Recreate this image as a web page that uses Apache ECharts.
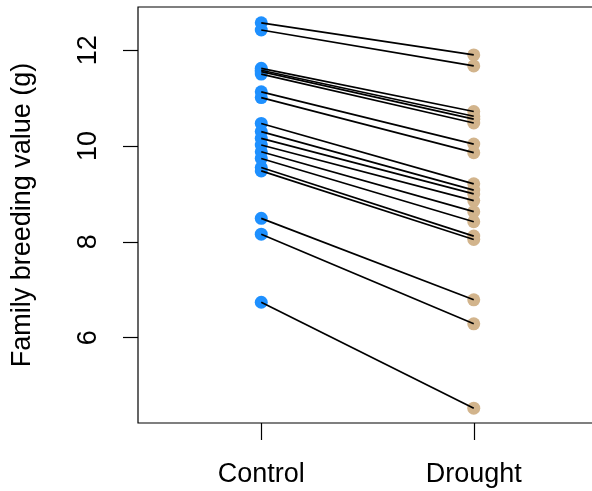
<!DOCTYPE html>
<html>
<head>
<meta charset="utf-8">
<script src="https://cdn.jsdelivr.net/npm/echarts@6/dist/echarts.min.js"></script>
<style>
  html, body { margin: 0; padding: 0; background: #fff; }
  #chart { width: 592px; height: 491px; }
</style>
</head>
<body>
<div id="chart"></div>
<script>
// treatments on the x axis (positions 1 and 2)
const treatments = ['Control', 'Drought']
// family breeding values, one entry per family, paired by index
const controlValues = [12.57, 12.42, 11.62, 11.58, 11.55, 11.50, 11.13, 11.01,
  10.47, 10.30, 10.16, 10.02, 9.88, 9.74, 9.55, 9.48, 8.49, 8.16, 6.74]
const droughtValues = [11.90, 11.67, 10.72, 10.62, 10.56, 10.48, 10.04, 9.86,
  9.21, 9.08, 9.00, 8.86, 8.63, 8.42, 8.12, 8.05, 6.79, 6.29, 4.53]
const yTicks = [6, 8, 10, 12]

const chart = echarts.init(document.getElementById('chart'))

const fontFamily = '"Liberation Sans", Arial, sans-serif'

// one black segment per family
const pairLines = controlValues.map((c, i) => ({
  type: 'line',
  data: [[1, c], [2, droughtValues[i]]],
  symbol: 'none',
  lineStyle: { color: '#000', width: 1.7 },
  z: 5,
  silent: true
}))

const option = {
  animation: false,
  backgroundColor: '#fff',
  grid: {
    left: 138,
    top: 7,
    width: 459,
    bottom: 68,
    outerBoundsMode: 'none',
    containLabel: false,
    show: true,
    borderColor: '#000',
    borderWidth: 1.2,
    backgroundColor: 'transparent'
  },
  xAxis: {
    type: 'value',
    min: 0.42,
    max: 2.58,
    splitLine: { show: false },
    axisLine: { show: false },
    axisTick: {
      show: true,
      customValues: [1, 2],
      length: 17,
      lineStyle: { color: '#000', width: 1.2 }
    },
    axisLabel: {
      customValues: [1, 2],
      formatter: v => treatments[Math.round(v) - 1],
      color: '#000',
      fontSize: 27,
      fontFamily: fontFamily,
      margin: 38
    }
  },
  yAxis: {
    type: 'value',
    min: 4.22,
    max: 12.9,
    name: 'Family breeding value (g)',
    nameLocation: 'middle',
    nameGap: 102,
    nameRotate: 90,
    nameTextStyle: { color: '#000', fontSize: 27, fontFamily: fontFamily },
    splitLine: { show: false },
    axisLine: { show: false },
    axisTick: {
      show: true,
      customValues: yTicks,
      length: 15,
      lineStyle: { color: '#000', width: 1.2 }
    },
    axisLabel: {
      customValues: yTicks,
      rotate: 90,
      color: '#000',
      fontSize: 27,
      fontFamily: fontFamily,
      margin: 36
    }
  },
  series: [
    {
      type: 'scatter',
      data: controlValues.map(v => [1, v]),
      symbolSize: 13,
      itemStyle: { color: '#1E90FF', opacity: 1 },
      z: 3
    },
    {
      type: 'scatter',
      data: droughtValues.map(v => [2, v]),
      symbolSize: 13,
      itemStyle: { color: '#D2B48C', opacity: 1 },
      z: 3
    },
    ...pairLines
  ]
}

chart.setOption(option)
</script>
</body>
</html>
